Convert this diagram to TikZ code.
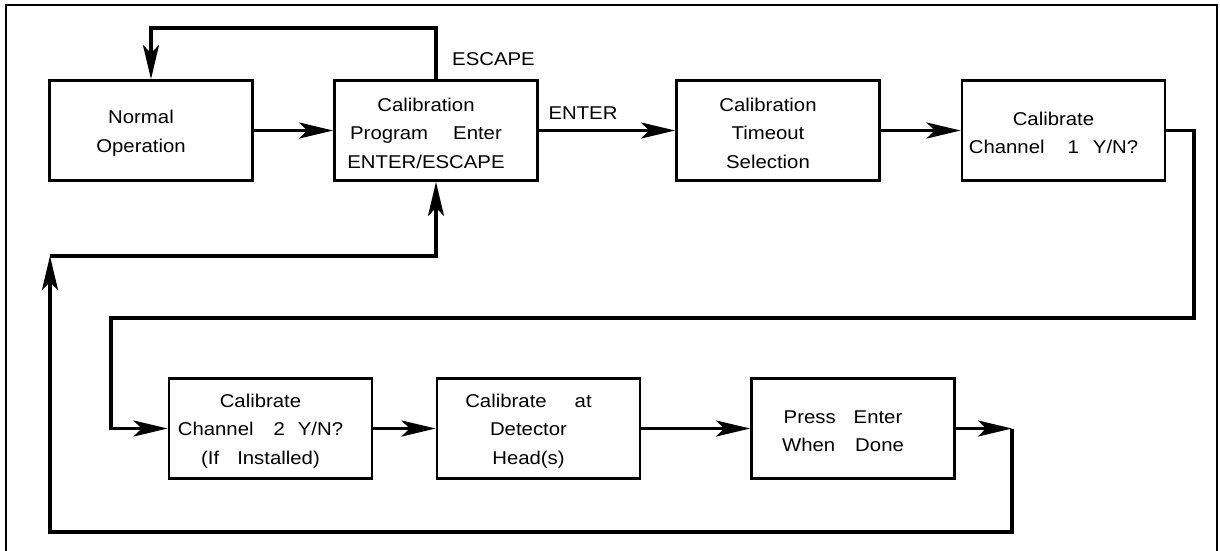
\documentclass[tikz,border=0pt]{standalone}
\usepackage{fontspec}
\setmainfont{Liberation Sans}[FakeStretch=1.1]
\usetikzlibrary{arrows.meta}
\begin{document}
\begin{tikzpicture}[x=1pt,y=-1pt,
  box/.style={draw,line width=2.8pt,minimum width=203pt,minimum height=100pt,inner sep=0pt},
  txt/.style={align=center,font=\fontsize{18.5}{28.5}\selectfont,inner sep=0pt,xshift=-10pt,yshift=-2.5pt},
  lbl/.style={font=\fontsize{18.5}{22}\selectfont,inner sep=0pt},
  wire/.style={line width=3.2pt},
  arr/.style={wire,-{Stealth[length=34pt,width=16pt,inset=8pt]}}]
\useasboundingbox (0,0) rectangle (1220,550);
% outer frame (open at bottom)
\draw[line width=2pt] (6,552) -- (6,5) -- (1217,5) -- (1217,552);
% boxes
\node[box] (norm)  at (151,130.5) {};
\node[box] (cal)   at (436,130.5) {};
\node[box] (tout)  at (778,130.5) {};
\node[box] (ch1)   at (1063.5,130.5) {};
\node[box] (ch2)   at (270.5,428.5) {};
\node[box] (det)   at (538.5,428.5) {};
\node[box] (press) at (853,428.5) {};
% texts
\node[txt] (tnorm) at (norm.center) {Normal\\Operation};
\node[txt] (tcal) at (cal.center) {Calibration\\Program\hspace{25pt}Enter\\ENTER/ESCAPE};
\node[txt] (ttout) at (tout.center) {Calibration\\Timeout\\Selection};
\node[txt] (tch1) at (ch1.center) {Calibrate\\Channel\hspace{23pt}1\hspace{14pt}Y/N?};
\node[txt] (tch2) at (ch2.center) {Calibrate\\Channel\hspace{20pt}2\hspace{13pt}Y/N?\\(If\hspace{18pt}Installed)};
\node[txt] (tdet) at (det.center) {Calibrate\hspace{28pt}at\\Detector\\Head(s)};
\node[txt] (tpress) at (press.center) {Press\hspace{18pt}Enter\\When\hspace{20pt}Done};
% labels
\node[lbl] (lesc) at (493.5,59) {ESCAPE};
\node[lbl] (lent) at (583,113) {ENTER};
% coordinates
\coordinate (r1) at (1194,130.5);
\coordinate (r2) at (1194,318);
\coordinate (l1) at (111,318);
\coordinate (c1) at (1012,428.5);
\coordinate (b1) at (1012,532);
\coordinate (b2) at (50,532);
\coordinate (c2) at (50,256);
\coordinate (e1) at (436,28);
\coordinate (e2) at (151,28);
% connectors
\draw[arr] (norm.east) -- (cal.west);
\draw[arr] (cal.north) -- (e1) -- (e2) -- (norm.north);
\draw[arr] (cal.east) -- (tout.west);
\draw[arr] (tout.east) -- (ch1.west);
\draw[arr] (ch1.east) -- (r1) -- (r2) -- (l1) |- (ch2.west);
\draw[arr] (ch2.east) -- (det.west);
\draw[arr] (det.east) -- (press.west);
\draw[arr] (press.east) -- (c1);
\draw[arr] (c1) -- (b1) -- (b2) -- (c2);
\draw[arr] (c2) -| (cal.south);
\end{tikzpicture}
\end{document}
